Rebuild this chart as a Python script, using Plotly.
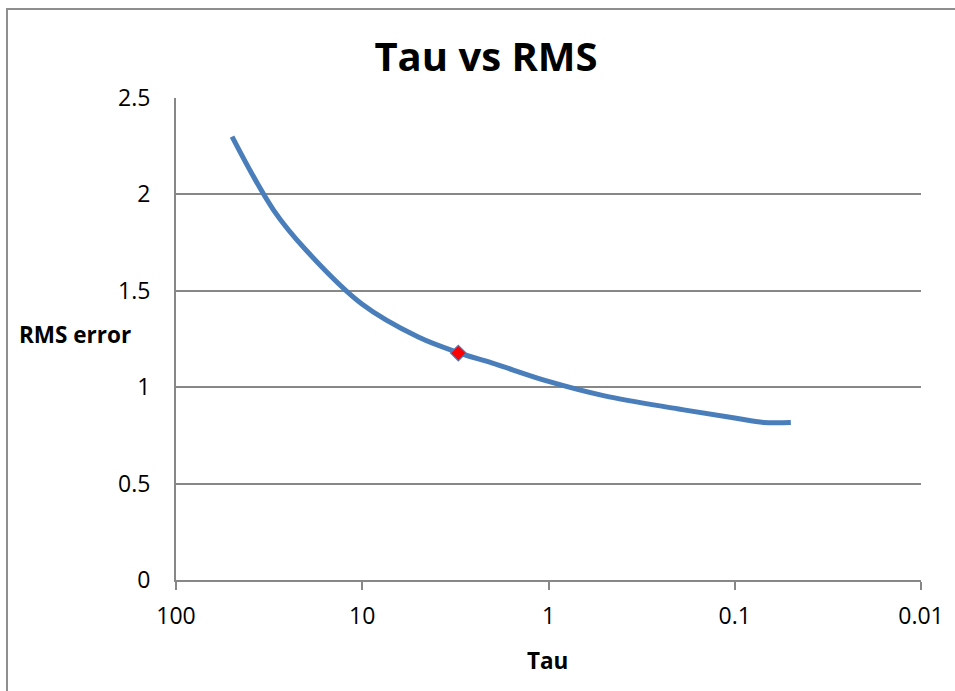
import plotly.graph_objects as go

tau = [50, 30, 20, 10, 5, 3, 2, 1, 0.5, 0.2, 0.1, 0.07, 0.05]
rms = [2.30, 1.92, 1.71, 1.43, 1.26, 1.177, 1.125, 1.03, 0.955, 0.887, 0.84, 0.817, 0.817]

sel_tau = [3.05]
sel_rms = [1.177]

x_ticks = [100, 10, 1, 0.1, 0.01]
x_tick_text = ["100", "10", "1", "0.1", "0.01"]
y_ticks = [0, 0.5, 1, 1.5, 2, 2.5]
y_tick_text = ["0", "0.5", "1", "1.5", "2", "2.5"]

FONT = "Open Sans, Liberation Sans, sans-serif"
GRAY = "#878787"

fig = go.Figure()
fig.add_trace(go.Scatter(
    x=tau, y=rms, mode="lines",
    line=dict(color="#4A7EBB", width=5, shape="spline", smoothing=1.0),
    showlegend=False, hoverinfo="skip",
))
fig.add_trace(go.Scatter(
    x=sel_tau, y=sel_rms, mode="markers",
    marker=dict(symbol="diamond", size=12, color="#FF0000",
                line=dict(color="#4A7EBB", width=1.2)),
    showlegend=False,
))

L, R, T, B = 176, 34, 98, 111
W, H = 955, 691
pw, ph = W - L - R, H - T - B

def px_to_paper_x(px):
    return (px - L) / pw

def px_to_paper_y(py):
    return (H - B - py) / ph

fig.update_layout(
    width=W, height=H,
    margin=dict(l=L, r=R, t=T, b=B, pad=0),
    paper_bgcolor="white", plot_bgcolor="white",
    font=dict(family=FONT, color="black", size=23),
    title=dict(text="<b>Tau vs RMS</b>", font=dict(family=FONT, size=40, color="black"),
               x=486 / W, xref="container", xanchor="center",
               y=1 - 57 / H, yref="container", yanchor="middle"),
    xaxis=dict(
        type="log", range=[2, -2],
        tickvals=x_ticks, ticktext=x_tick_text,
        showgrid=False, zeroline=False,
        showline=True, linecolor=GRAY, linewidth=2,
        ticks="outside", ticklen=8, tickcolor=GRAY, tickwidth=2,
        ticklabelstandoff=6,
        tickfont=dict(family=FONT, size=23, color="black"),
    ),
    yaxis=dict(
        range=[0, 2.5],
        tickvals=y_ticks, ticktext=y_tick_text,
        showgrid=True, gridcolor=GRAY, gridwidth=1.5,
        zeroline=False,
        showline=True, linecolor=GRAY, linewidth=2,
        ticks="",
        ticklabelstandoff=19,
        tickfont=dict(family=FONT, size=23, color="black"),
    ),
    annotations=[
        dict(text="<b>RMS error</b>", x=px_to_paper_x(75), y=px_to_paper_y(334),
             xref="paper", yref="paper", showarrow=False,
             xanchor="center", yanchor="middle",
             font=dict(family=FONT, size=22.5, color="black")),
        dict(text="<b>Tau</b>", x=px_to_paper_x(547), y=px_to_paper_y(660),
             xref="paper", yref="paper", showarrow=False,
             xanchor="center", yanchor="middle",
             font=dict(family=FONT, size=22.5, color="black")),
    ],
    shapes=[
        dict(type="rect", xref="paper", yref="paper",
             x0=px_to_paper_x(7), x1=px_to_paper_x(970),
             y0=px_to_paper_y(705), y1=px_to_paper_y(9),
             line=dict(color="#8E8E8E", width=2), fillcolor="rgba(0,0,0,0)",
             layer="below"),
    ],
)

fig.write_html("out.html")
